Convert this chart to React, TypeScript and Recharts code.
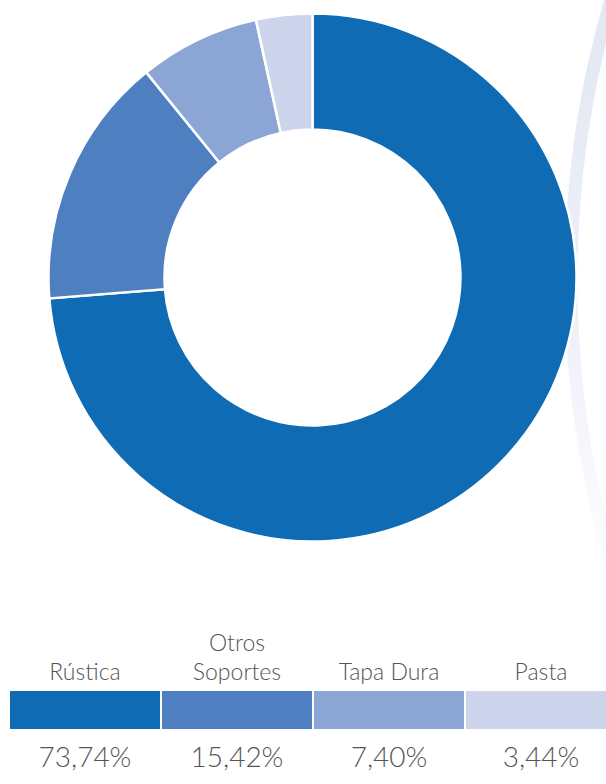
import React from "react";
import { PieChart, Pie, Cell } from "recharts";

const categories = ["Rústica", "Otros Soportes", "Tapa Dura", "Pasta"];
const labelLines = [["Rústica"], ["Otros", "Soportes"], ["Tapa Dura"], ["Pasta"]];
const shares = [73.74, 15.42, 7.4, 3.44];
const shareLabels = ["73,74%", "15,42%", "7,40%", "3,44%"];
const colors = ["#0e6bb4", "#4d7fc1", "#8ba5d4", "#ccd5ec"];

const data = categories.map((name, i) => ({ name, value: shares[i] }));

const FONT = "Lato, 'Noto Sans', sans-serif";

export default function App() {
  return (
    <div style={{ position: "absolute", left: 0, top: 0, width: 606, height: 784, background: "#fff", overflow: "hidden" }}>
      <svg width={606} height={784} style={{ position: "absolute", left: 0, top: 0 }}>
        <defs>
          <linearGradient id="arcGrad" x1="0" y1="0" x2="0" y2="600" gradientUnits="userSpaceOnUse">
            <stop offset="0" stopColor="#e2e7f3" />
            <stop offset="0.55" stopColor="#eef1f8" />
            <stop offset="1" stopColor="#ffffff" />
          </linearGradient>
        </defs>
        <circle cx={1571} cy={280} r={1000} fill="none" stroke="url(#arcGrad)" strokeWidth={13} />
      </svg>
      <div style={{ position: "absolute", left: 0, top: 0 }}>
        <PieChart width={606} height={600} margin={{ top: 0, right: 0, bottom: 0, left: 0 }}>
          <Pie
            data={data}
            dataKey="value"
            nameKey="name"
            cx={312.5}
            cy={277.5}
            innerRadius={148}
            outerRadius={264}
            startAngle={90}
            endAngle={-270}
            stroke="#ffffff"
            strokeWidth={2.5}
            isAnimationActive={false}
          >
            {data.map((d, i) => (
              <Cell key={d.name} fill={colors[i]} />
            ))}
          </Pie>
        </PieChart>
      </div>
      {categories.map((c, i) => {
        const left = 10 + i * 152;
        return (
          <div key={c} style={{ position: "absolute", left, top: 0, width: 150 }}>
            <div
              style={{
                position: "absolute",
                left: 0,
                width: 150,
                bottom: -686,
                textAlign: "center",
                fontFamily: FONT,
                fontWeight: 300,
                fontSize: 23,
                lineHeight: "29px",
                color: "#555555",
              }}
            >
              {labelLines[i].map((l) => (
                <div key={l}>{l}</div>
              ))}
            </div>
            <div style={{ position: "absolute", left: 0, top: 691, width: 150, height: 38, background: colors[i] }} />
            <div
              style={{
                position: "absolute",
                left: 0,
                top: 738,
                width: 150,
                textAlign: "center",
                fontFamily: FONT,
                fontWeight: 300,
                fontSize: 28,
                lineHeight: "36px",
                color: "#555555",
              }}
            >
              {shareLabels[i]}
            </div>
          </div>
        );
      })}
    </div>
  );
}
